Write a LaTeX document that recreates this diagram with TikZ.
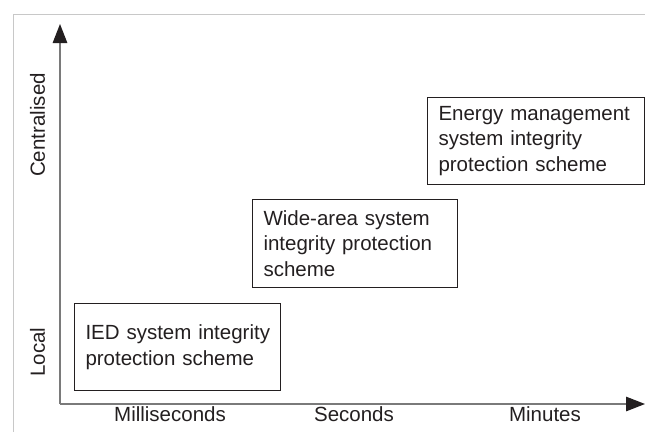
\documentclass[tikz,border=0pt]{standalone}
\usepackage{fontspec}
\setmainfont{Liberation Sans}
\usetikzlibrary{arrows.meta}
\definecolor{framegray}{HTML}{C8C8C8}
\definecolor{axisgray}{HTML}{7A7A7A}
\definecolor{ink}{HTML}{231F20}
\newcommand{\oneline}[1]{\mbox{#1}}
\begin{document}
\begin{tikzpicture}[x=1pt,y=-1pt,
  every node/.style={font=\fontsize{20.5}{25.5}\selectfont, text=ink},
  axis/.style={draw=axisgray, line width=1.3pt,
    -{Triangle[length=19pt,width=14.5pt,color=ink]}},
  scheme/.style={draw=ink, line width=1pt, anchor=north west, align=left,
    inner xsep=11pt, inner ysep=0pt},
  axislabel/.style={inner sep=0pt}]
\useasboundingbox (0,0) rectangle (645,432);

% outer frame
\draw[framegray, line width=1pt] (645,14) -- (13,14) -- (13,432);

% axes
\coordinate (origin) at (60,404);
\coordinate (ytip) at (60,24);
\coordinate (xtip) at (645,404);
\draw[axis] (origin) -- (ytip);
\draw[axis] (origin) -- (xtip);

% axis labels
\node[axislabel, rotate=90] (central) at (37.5,125) {Centralised};
\node[axislabel, rotate=90] (local) at (37.5,352) {Local};
\node[axislabel, anchor=base] (ms) at (170,421) {Milliseconds};
\node[axislabel, anchor=base] (sec) at (354,421) {Seconds};
\node[axislabel, anchor=base] (min) at (545,421) {Minutes};

% protection schemes
\node[scheme, minimum width=206pt, minimum height=87pt, text width=184pt]
  (ied) at (74,303)
  {\oneline{IED system integrity}\\\oneline{protection scheme}};
\node[scheme, minimum width=205pt, minimum height=88pt, text width=183pt]
  (wide) at (252,199)
  {\oneline{Wide-area system}\\\oneline{integrity protection}\\\oneline{scheme}};
\node[scheme, minimum width=217pt, minimum height=87pt, text width=195pt]
  (ems) at (427,97)
  {\oneline{Energy management}\\\oneline{system integrity}\\\oneline{protection scheme}};
\end{tikzpicture}
\end{document}
